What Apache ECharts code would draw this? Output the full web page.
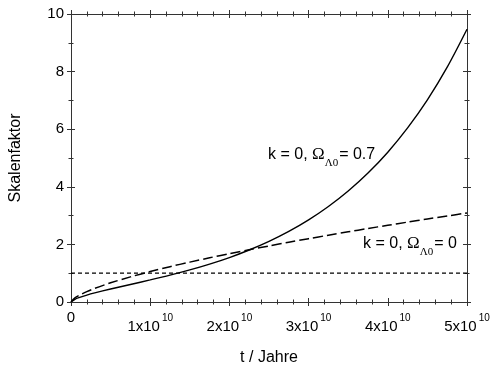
<!DOCTYPE html>
<html>
<head>
<meta charset="utf-8">
<script src="https://cdn.jsdelivr.net/npm/echarts@6/dist/echarts.min.js"></script>
<style>html,body{margin:0;padding:0;background:#fff}#c{width:500px;height:373px}</style>
</head>
<body>
<div id="c"></div>
<script>
// time in years
var tYears = [0, 5e8, 1e9, 2e9, 3e9, 5e9, 7.5e9, 1e10, 1.25e10, 1.5e10, 1.75e10, 2e10, 2.25e10, 2.5e10, 2.75e10, 3e10, 3.25e10, 3.5e10, 3.75e10, 4e10, 4.25e10, 4.5e10, 4.75e10, 5e10];
// k = 0, Omega_Lambda0 = 0.7 (solid)
var aLambda = [0, 0.095, 0.151, 0.241, 0.317, 0.452, 0.609, 0.766, 0.931, 1.113, 1.315, 1.543, 1.805, 2.105, 2.451, 2.852, 3.316, 3.854, 4.478, 5.202, 6.044, 7.019, 8.153, 9.469];
// k = 0, Omega_Lambda0 = 0 (long dashes)
var aMatter = [0, 0.144, 0.228, 0.362, 0.474, 0.666, 0.873, 1.057, 1.227, 1.385, 1.535, 1.678, 1.815, 1.947, 2.075, 2.199, 2.320, 2.437, 2.552, 2.664, 2.774, 2.882, 2.987, 3.091];
// reference level a = 1 (short dashes)
var refT = [0, 5e10];
var refA = [1, 1];
var xTicks = [0, 1e10, 2e10, 3e10, 4e10, 5e10];
var yTicks = [0, 2, 4, 6, 8, 10];
var label1 = ['k = 0, ', 'Ω', 'Λ0', '= 0.7'];
var label2 = ['k = 0, ', 'Ω', 'Λ0', '= 0'];

function zip(a, b) { return a.map(function (v, i) { return [v, b[i]]; }); }

var FONT = 'Liberation Sans';
var AX = '#333';

function xAx(pos, inside, show) {
  return {
    type: 'value', position: pos, min: xTicks[0], max: xTicks[xTicks.length - 1], interval: 1e10,
    axisLine: { show: true, onZero: false, lineStyle: { color: AX, width: 1 } },
    axisTick: { show: true, inside: inside, length: 4, lineStyle: { color: AX } },
    minorTick: { show: true, splitNumber: 5, length: 2.5, lineStyle: { color: AX } },
    splitLine: { show: false }, minorSplitLine: { show: false },
    axisLabel: show ? {
      show: true, margin: 8, verticalAlign: 'top',
      formatter: function (v) {
        if (v === 0) return '{z|0}';
        return '{b|' + Math.round(v / 1e10) + 'x10}{s|10}';
      },
      rich: {
        z: { fontFamily: FONT, fontSize: 15, color: '#000', lineHeight: 15 },
        b: { fontFamily: FONT, fontSize: 15, color: '#000', lineHeight: 24, verticalAlign: 'bottom' },
        s: { fontFamily: FONT, fontSize: 10, color: '#000', lineHeight: 24, verticalAlign: 'top', padding: [3, 0, 0, 2] }
      }
    } : { show: false },
    name: show ? 't / Jahre' : '', nameLocation: 'middle', nameGap: 48,
    nameTextStyle: { fontFamily: FONT, fontSize: 16, color: '#000' }
  };
}
function yAx(pos, inside, show) {
  return {
    type: 'value', position: pos, min: yTicks[0], max: yTicks[yTicks.length - 1], interval: 2,
    axisLine: { show: true, onZero: false, lineStyle: { color: AX, width: 1 } },
    axisTick: { show: true, inside: inside, length: 4, lineStyle: { color: AX } },
    minorTick: { show: true, splitNumber: 2, length: 2.5, lineStyle: { color: AX } },
    splitLine: { show: false }, minorSplitLine: { show: false },
    axisLabel: show ? { show: true, margin: 7, fontFamily: FONT, fontSize: 15, color: '#000' } : { show: false },
    name: show ? 'Skalenfaktor' : '', nameLocation: 'middle', nameGap: 47,
    nameTextStyle: { fontFamily: FONT, fontSize: 16, color: '#000' }
  };
}

function richLabel(parts) {
  return '{a|' + parts[0] + '}{o|' + parts[1] + '}{s|' + parts[2] + '}{a|' + parts[3] + '}';
}
var labelRich = {
  a: { fontFamily: FONT, fontSize: 16, fill: '#000', lineHeight: 28, verticalAlign: 'middle' },
  o: { fontFamily: 'Liberation Serif', fontSize: 17, fill: '#000', lineHeight: 28, verticalAlign: 'middle' },
  s: { fontFamily: 'Liberation Serif', fontSize: 11, fill: '#000', lineHeight: 28, verticalAlign: 'bottom', padding: [0, 1, 0, 0] }
};

var chart = echarts.init(document.getElementById('c'), null, { renderer: 'canvas' });
chart.setOption({
  animation: false,
  backgroundColor: '#fff',
  grid: { left: 70, right: 33, top: 14, bottom: 71, containLabel: false },
  xAxis: [xAx('bottom', false, true), xAx('bottom', true, false), xAx('top', false, false), xAx('top', true, false)],
  yAxis: [yAx('left', false, true), yAx('left', true, false), yAx('right', false, false), yAx('right', true, false)],
  series: [
    { type: 'line', data: zip(tYears, aLambda), showSymbol: false, smooth: 0.3, silent: true,
      lineStyle: { color: '#000', width: 1.4 } },
    { type: 'line', data: zip(tYears, aMatter), showSymbol: false, smooth: 0.3, silent: true,
      lineStyle: { color: '#000', width: 1.5, type: [10, 4] } },
    { type: 'line', data: zip(refT, refA), showSymbol: false, silent: true,
      lineStyle: { color: '#000', width: 1.3, type: [4, 3] } }
  ],
  graphic: [
    { type: 'text', left: 268, top: 146, style: { text: richLabel(label1), rich: labelRich } },
    { type: 'text', left: 363, top: 235, style: { text: richLabel(label2), rich: labelRich } }
  ]
});
</script>
</body>
</html>
